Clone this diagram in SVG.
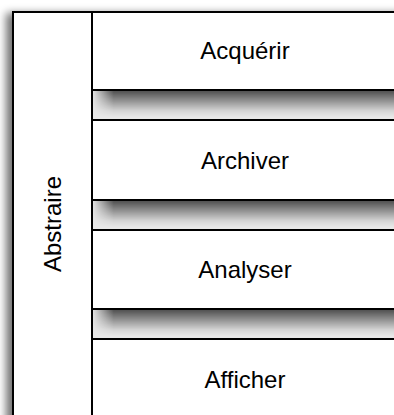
<svg xmlns="http://www.w3.org/2000/svg" width="394" height="415" viewBox="0 0 394 415">
<defs>
<style>
.box{fill:#fff;stroke:#000;stroke-width:2}
.band{fill:#e8e8e8;stroke:#000;stroke-width:2}
.sh{fill:url(#vg);mask:url(#hm)}
.lbl{font-family:"Liberation Sans",Arial,sans-serif;font-size:24px;fill:#000;text-anchor:middle}
</style>
<linearGradient id="vg" x1="0" y1="0" x2="0" y2="1">
<stop offset="0" stop-color="#000" stop-opacity="0.68"/>
<stop offset="0.35" stop-color="#000" stop-opacity="0.38"/>
<stop offset="0.7" stop-color="#000" stop-opacity="0.08"/>
<stop offset="0.9" stop-color="#000" stop-opacity="0"/>
</linearGradient>
<linearGradient id="hg" x1="0" y1="0" x2="0.07" y2="0">
<stop offset="0" stop-color="#000"/>
<stop offset="1" stop-color="#fff"/>
</linearGradient>
<mask id="hm" maskContentUnits="objectBoundingBox">
<rect x="0" y="0" width="1" height="1" fill="url(#hg)"/>
</mask>
<filter id="blur" filterUnits="userSpaceOnUse" x="-30" y="-30" width="460" height="480">
<feGaussianBlur stdDeviation="4.5"/>
</filter>
</defs>
<rect x="6" y="13" width="400" height="430" fill="#000" opacity="0.55" filter="url(#blur)"/>
<g id="abstraire">
<rect class="box" x="13" y="12" width="79" height="420"/>
<text class="lbl" transform="translate(61,224) rotate(-90)">Abstraire</text>
</g>
<g id="acquerir">
<rect class="box" x="92" y="12" width="310" height="78"/>
<text class="lbl" x="245" y="59">Acquérir</text>
</g>
<g id="band1">
<rect class="band" x="92" y="90" width="310" height="30"/>
<rect class="sh" x="92" y="90" width="310" height="30"/>
<rect x="92" y="90" width="310" height="30" fill="none" stroke="#000" stroke-width="2"/>
</g>
<g id="archiver">
<rect class="box" x="92" y="120" width="310" height="80"/>
<text class="lbl" x="245" y="169">Archiver</text>
</g>
<g id="band2">
<rect class="band" x="92" y="200" width="310" height="30"/>
<rect class="sh" x="92" y="200" width="310" height="30"/>
<rect x="92" y="200" width="310" height="30" fill="none" stroke="#000" stroke-width="2"/>
</g>
<g id="analyser">
<rect class="box" x="92" y="230" width="310" height="79"/>
<text class="lbl" x="245" y="278">Analyser</text>
</g>
<g id="band3">
<rect class="band" x="92" y="309" width="310" height="30"/>
<rect class="sh" x="92" y="309" width="310" height="30"/>
<rect x="92" y="309" width="310" height="30" fill="none" stroke="#000" stroke-width="2"/>
</g>
<g id="afficher">
<rect class="box" x="92" y="339" width="310" height="90"/>
<text class="lbl" x="245" y="388">Afficher</text>
</g>
<g id="connectors"/>
</svg>
